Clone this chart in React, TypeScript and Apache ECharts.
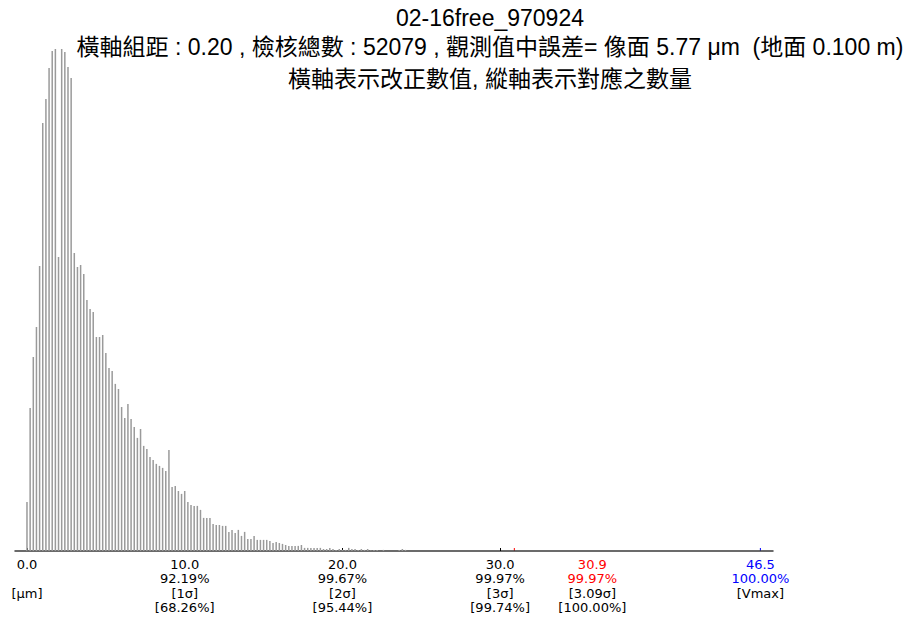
import React, { useEffect, useRef } from 'react';
import * as echarts from 'echarts';

const titleLines = [
  '02-16free_970924',
  '橫軸組距 : 0.20 , 檢核總數 : 52079 , 觀測值中誤差= 像面 5.77 μm  (地面 0.100 m)',
  '橫軸表示改正數值, 縱軸表示對應之數量',
];

const binWidth = 0.2;
// counts per 0.2 bin, starting at 0.0
const counts = [
  221, 644, 873, 1008, 1283, 1926, 2034, 2174, 2250, 2259,
  1323, 2259, 2246, 2178, 2129, 1341, 1278, 1287, 1247, 1130,
  1089, 1076, 963, 963, 972, 891, 824, 810, 752, 729,
  648, 599, 662, 594, 558, 509, 549, 473, 459, 423,
  410, 392, 383, 374, 360, 455, 288, 293, 270, 257,
  270, 221, 207, 203, 203, 185, 149, 149, 149, 122,
  117, 117, 113, 113, 86, 95, 81, 95, 68, 86,
  54, 54, 68, 50, 50, 50, 50, 45, 36, 41,
  36, 32, 27, 23, 23, 23, 23, 27, 14, 14,
  14, 14, 14, 14, 9, 9, 14, 9, 5, 9,
  5, 5, 14, 9, 9, 5, 9, 5, 9, 2,
  5, 5, 0, 5, 0, 0, 0, 0, 5, 9,
  5,
];

const tickValues = [0, 10, 20, 30];
const labelValues = [0, 10, 20, 30, 30.9, 46.5];
const labelTexts = ['0.0', '10.0', '20.0', '30.0', '30.9', '46.5'];
const cumPercents = ['', '92.19%', '99.67%', '99.97%', '99.97%', '100.00%'];
const sigmaLabels = ['[μm]', '[1σ]', '[2σ]', '[3σ]', '[3.09σ]', '[Vmax]'];
const normalPercents = ['', '[68.26%]', '[95.44%]', '[99.74%]', '[100.00%]', ''];
const highlightColors = ['#000000', '#000000', '#000000', '#000000', '#ff0000', '#0000ff'];

export default function App() {
  const ref = useRef<HTMLDivElement>(null);

  useEffect(() => {
    if (!ref.current) return;
    document.body.style.margin = '0';
    const chart = echarts.init(ref.current, null, { renderer: 'svg' });
    const data = counts.map((c, i) => [+(i * binWidth).toFixed(1), c]);
    const maxCount = Math.max(...counts);
    const titleFont = "'Liberation Sans', 'Noto Sans CJK TC', sans-serif";

    chart.setOption({
      animation: false,
      backgroundColor: '#ffffff',
      title: titleLines.map((t, i) => ({
        text: t,
        left: 490,
        top: [6, 35, 67][i],
        padding: 0,
        textAlign: 'center',
        textStyle: { fontSize: 23, fontWeight: 'normal', color: '#000', fontFamily: titleFont },
      })),
      grid: { left: 15, right: 136, top: 49, bottom: 74, containLabel: false },
      xAxis: {
        type: 'value',
        min: -0.76,
        max: 47.3,
        splitLine: { show: false },
        axisLine: { show: true, onZero: false, lineStyle: { color: '#3a3a3a', width: 1.5 } },
        axisTick: { show: true, inside: true, length: 3, customValues: tickValues, lineStyle: { color: '#000' } },
        axisLabel: { show: false },
      },
      yAxis: {
        type: 'value',
        min: 0,
        max: maxCount,
        show: false,
      },
      series: [
        {
          type: 'bar',
          data,
          barWidth: 1.5,
          itemStyle: { color: '#9a9a9a' },
          silent: true,
        },
      ],
    });

    const font = "13px 'DejaVu Sans', sans-serif";
    const lineY = [564, 578, 593, 607];
    const shift = [0, 0, 0, 0, 78, 0];
    const elements: any[] = [];
    labelValues.forEach((v, i) => {
      const px = chart.convertToPixel({ xAxisIndex: 0 }, v) as number;
      const cx = px + shift[i];
      const lines = [
        { t: labelTexts[i], c: highlightColors[i] },
        { t: cumPercents[i], c: highlightColors[i] },
        { t: sigmaLabels[i], c: '#000000' },
        { t: normalPercents[i], c: '#000000' },
      ];
      lines.forEach((ln, j) => {
        if (!ln.t) return;
        elements.push({
          type: 'text',
          x: cx,
          y: lineY[j],
          style: {
            text: ln.t,
            fill: ln.c,
            font,
            textAlign: 'center',
            textVerticalAlign: 'middle',
            align: 'center',
            verticalAlign: 'middle',
          },
          silent: true,
        });
      });
      if (i >= 4) {
        elements.push({
          type: 'line',
          shape: { x1: px, y1: 548, x2: px, y2: 551 },
          style: { stroke: highlightColors[i], lineWidth: 1 },
          silent: true,
        });
      }
    });
    chart.setOption({ graphic: elements });

    return () => chart.dispose();
  }, []);

  return <div ref={ref} style={{ width: 909, height: 625 }} />;
}
